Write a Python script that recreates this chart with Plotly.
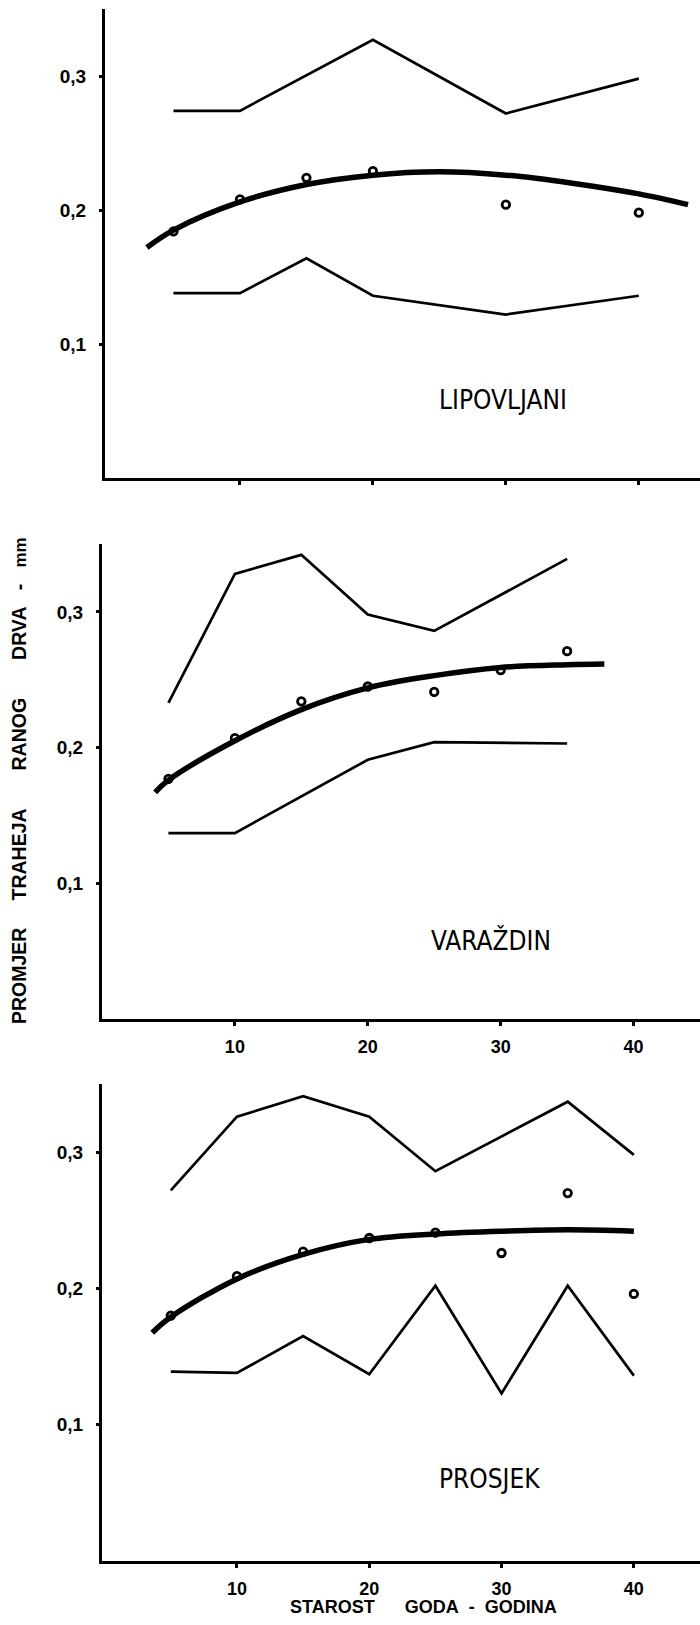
import plotly.graph_objects as go

# ---------------- data ----------------
# LIPOVLJANI
lip_up_x = [5, 10, 20, 30, 40]
lip_up_y = [0.274, 0.274, 0.327, 0.272, 0.298]
lip_lo_x = [5, 10, 15, 20, 30, 40]
lip_lo_y = [0.138, 0.138, 0.164, 0.136, 0.122, 0.136]
lip_pt_x = [5, 10, 15, 20, 30, 40]
lip_pt_y = [0.184, 0.208, 0.224, 0.229, 0.204, 0.198]
lip_cv_x = [3, 5, 10, 15, 20, 25, 30, 35, 40, 43.7]
lip_cv_y = [0.172, 0.185, 0.206, 0.219, 0.226, 0.2285, 0.226, 0.220, 0.212, 0.204]

# VARAZDIN
var_up_x = [5, 10, 15, 20, 25, 35]
var_up_y = [0.233, 0.328, 0.342, 0.298, 0.286, 0.339]
var_lo_x = [5, 10, 20, 25, 35]
var_lo_y = [0.137, 0.137, 0.191, 0.204, 0.203]
var_pt_x = [5, 10, 15, 20, 25, 30, 35]
var_pt_y = [0.177, 0.207, 0.234, 0.245, 0.241, 0.257, 0.271]
var_cv_x = [4, 5, 10, 15, 20, 25, 30, 35, 37.8]
var_cv_y = [0.167, 0.176, 0.205, 0.228, 0.244, 0.253, 0.259, 0.261, 0.2615]

# PROSJEK
pro_up_x = [5, 10, 15, 20, 25, 35, 40]
pro_up_y = [0.272, 0.326, 0.341, 0.326, 0.286, 0.337, 0.298]
pro_lo_x = [5, 10, 15, 20, 25, 30, 35, 40]
pro_lo_y = [0.139, 0.138, 0.165, 0.137, 0.202, 0.123, 0.202, 0.136]
pro_pt_x = [5, 10, 15, 20, 25, 30, 35, 40]
pro_pt_y = [0.180, 0.209, 0.227, 0.237, 0.241, 0.226, 0.270, 0.196]
pro_cv_x = [3.6, 5, 10, 15, 20, 25, 30, 35, 40]
pro_cv_y = [0.1675, 0.179, 0.207, 0.225, 0.236, 0.240, 0.242, 0.243, 0.242]

panel_names = ["LIPOVLJANI", "VARAŽDIN", "PROSJEK"]
panel_label_pos = [(29.8, 0.058), (29.3, 0.058), (29.1, 0.060)]
y_ticks = [0.1, 0.2, 0.3]
y_tick_text = ["0,1", "0,2", "0,3"]
x_ticks = [10, 20, 30, 40]
x_tick_text = ["10", "20", "30", "40"]
NB = "\u00a0"
y_title = ("PROMJER" + NB * 5 + "TRAHEJA" + NB * 7 + "RANOG" + NB * 7 + "DRVA" + NB * 3 + "-" + NB * 3
           + "<span style='font-size:17px'>mm</span>")
x_title = "STAROST" + NB * 6 + "GODA" + NB * 2 + "-" + NB * 2 + "GODINA"

panels = [
    (lip_up_x, lip_up_y, lip_lo_x, lip_lo_y, lip_pt_x, lip_pt_y, lip_cv_x, lip_cv_y),
    (var_up_x, var_up_y, var_lo_x, var_lo_y, var_pt_x, var_pt_y, var_cv_x, var_cv_y),
    (pro_up_x, pro_up_y, pro_lo_x, pro_lo_y, pro_pt_x, pro_pt_y, pro_cv_x, pro_cv_y),
]

# ---------------- layout geometry ----------------
W, H = 700, 1625
m_l, m_r, m_t, m_b = 102, 0, 9, 64
plot_w = W - m_l - m_r
plot_h = H - m_t - m_b
tops = [9, 544, 1084]
bottoms = [478, 1019, 1561]
domains = [[(H - m_b - b) / plot_h, (H - m_b - t) / plot_h] for t, b in zip(tops, bottoms)]
domains[0][1] = 1.0
domains[2][0] = 0.0
x_domains = [[3 / plot_w, 1.0], [0.0, 1.0], [0.0, 1.0]]
x_ranges = [[-0.15, 44.6], [0, 45], [-0.2, 45]]

BOLD = "Liberation Sans, Arial, sans-serif"
NARROW = "Liberation Sans Narrow, DejaVu Sans Condensed, Liberation Sans, sans-serif"

fig = go.Figure()
for i, (ux, uy, lx, ly, px, py, cx, cy) in enumerate(panels):
    xa = "x" if i == 0 else f"x{i+1}"
    ya = "y" if i == 0 else f"y{i+1}"
    fig.add_trace(go.Scatter(x=ux, y=uy, mode="lines", xaxis=xa, yaxis=ya,
                             line=dict(color="black", width=2.7), showlegend=False, hoverinfo="skip"))
    fig.add_trace(go.Scatter(x=lx, y=ly, mode="lines", xaxis=xa, yaxis=ya,
                             line=dict(color="black", width=2.7), showlegend=False, hoverinfo="skip"))
    fig.add_trace(go.Scatter(x=cx, y=cy, mode="lines", xaxis=xa, yaxis=ya,
                             line=dict(color="black", width=5.5, shape="spline", smoothing=1.0),
                             showlegend=False, hoverinfo="skip"))
    fig.add_trace(go.Scatter(x=px, y=py, mode="markers", xaxis=xa, yaxis=ya,
                             marker=dict(symbol="circle-open", size=7.5, color="black",
                                         line=dict(width=2.8, color="black")),
                             showlegend=False, hoverinfo="skip"))
    lx0, ly0 = panel_label_pos[i]
    fig.add_annotation(x=lx0, y=ly0, xref=xa, yref=ya, text=panel_names[i], showarrow=False,
                       font=dict(family=NARROW, size=26, color="black"), xanchor="center", yanchor="middle")

    xaxis = dict(domain=x_domains[i], range=x_ranges[i], anchor=ya, showline=True, linecolor="black",
                 linewidth=3, showgrid=False, zeroline=False, ticks="outside", ticklen=4, tickwidth=2.5,
                 tickcolor="black", tickvals=x_ticks, ticktext=x_tick_text if i > 0 else ["", "", "", ""],
                 ticklabelstandoff=5,
                 tickfont=dict(family=BOLD, size=18, color="black", weight="bold"))
    yaxis = dict(domain=domains[i], range=[0, 0.35], anchor=xa, showline=True, linecolor="black", linewidth=3,
                 showgrid=False, zeroline=False, ticks="outside", ticklen=3, tickwidth=3, tickcolor="black",
                 tickvals=y_ticks, ticktext=y_tick_text, ticklabelstandoff=9,
                 tickfont=dict(family=BOLD, size=19, color="black", weight="bold"))
    key = "" if i == 0 else str(i + 1)
    fig.update_layout(**{f"xaxis{key}": xaxis, f"yaxis{key}": yaxis})

fig.add_annotation(x=(19 - m_l) / plot_w, y=(H - m_b - 781) / plot_h, xref="paper", yref="paper",
                   text=y_title, textangle=-90, showarrow=False, xanchor="center", yanchor="middle",
                   font=dict(family=BOLD, size=19.5, color="black", weight="bold"))
fig.add_annotation(x=(423 - m_l) / plot_w, y=-(1607 - (H - m_b)) / plot_h, xref="paper", yref="paper",
                   text=x_title, showarrow=False, xanchor="center", yanchor="middle",
                   font=dict(family=BOLD, size=18, color="black", weight="bold"))

fig.update_layout(width=W, height=H, margin=dict(l=m_l, r=m_r, t=m_t, b=m_b),
                  paper_bgcolor="white", plot_bgcolor="white", showlegend=False)

fig.write_html("out.html")
